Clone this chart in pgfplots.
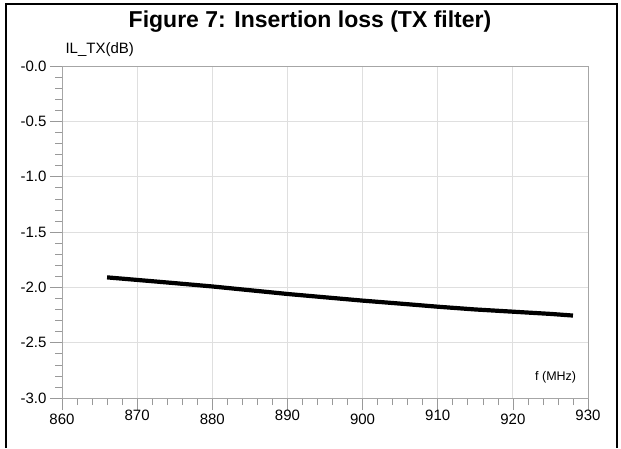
\documentclass[border=0pt]{standalone}
\usepackage{pgfplots}
\pgfplotsset{compat=1.18}
\usepackage{fontspec}
\setmainfont{Liberation Sans}

\begin{document}
\begin{tikzpicture}[x=1pt,y=1pt]
\path[use as bounding box] (0,0) rectangle (621,448);
% outer frame (open at the bottom)
\draw[line width=2.5pt] (6,0) -- (6,444) -- (617,444) -- (617,0);
\node[font=\fontsize{23}{26}\selectfont\bfseries] at (310,426)
  {Figure 7: Insertion loss (TX filter)};
\begin{axis}[
  at={(62pt,50pt)}, anchor=south west,
  scale only axis, width=526pt, height=332pt,
  xmin=860, xmax=930, ymin=-3, ymax=0,
  xtick={860,870,880,890,900,910,920,930},
  xticklabels={860,\raisebox{3.5pt}[\height][\depth]{870},880,\raisebox{3.5pt}[\height][\depth]{890},
               900,\raisebox{3.5pt}[\height][\depth]{910},920,\raisebox{3.5pt}[\height][\depth]{930}},
  ytick={-3,-2.5,-2,-1.5,-1,-0.5,0},
  yticklabels={-3.0,-2.5,-2.0,-1.5,-1.0,-0.5,-0.0},
  minor x tick num=4, minor y tick num=4,
  xtick pos=left, ytick pos=left,
  tick align=outside,
  major tick length=12pt, minor tick length=7pt,
  every tick/.style={gray!80, line width=0.6pt},
  grid=major,
  major grid style={gray!25, line width=0.8pt},
  axis line style={gray!70, line width=0.8pt},
  tick label style={font=\fontsize{15}{17}\selectfont},
  clip=false,
]
\addplot[black, line width=4.2pt] coordinates {
  (866,-1.910) (870,-1.933) (875,-1.962) (880,-1.992) (885,-2.026)
  (890,-2.060) (895,-2.090) (900,-2.120) (905,-2.147) (910,-2.175)
  (915,-2.200) (920,-2.220) (925,-2.240) (928,-2.255)
};
\node[anchor=south west, font=\fontsize{15}{17}\selectfont] at (rel axis cs:0,1) [yshift=6pt] {IL\_TX(dB)};
\node[font=\fontsize{12.5}{14}\selectfont] at (axis cs:925.7,-2.81) {f (MHz)};
\end{axis}
\end{tikzpicture}
\end{document}
